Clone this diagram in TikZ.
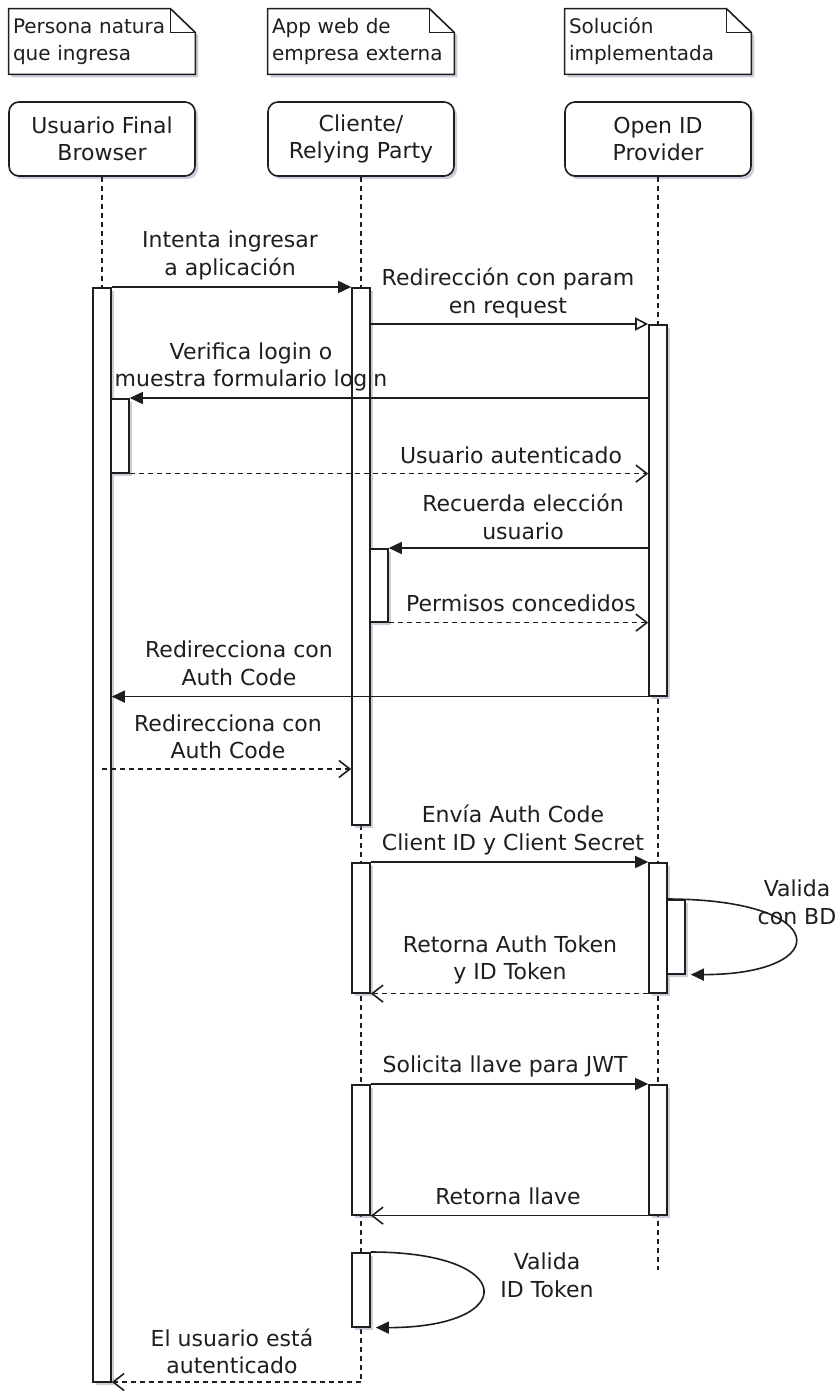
\documentclass[tikz,border=0pt]{standalone}
\usepackage{fontspec}
\setmainfont{DejaVu Sans}
\usetikzlibrary{arrows.meta,shadows,backgrounds}
\definecolor{Ink}{HTML}{1E1E1E}
\definecolor{Shade}{HTML}{8C92AC}

\begin{document}
\begin{tikzpicture}[x=.5pt,y=-.5pt,font=\fontsize{11}{13.75}\selectfont,
shade/.style={drop shadow={shadow xshift=1.5pt,shadow yshift=-1.5pt,opacity=.45,fill=Shade}},
actor/.style={draw=Ink,line width=.8pt,rounded corners=5pt,fill=white,text=Ink,align=center,minimum width=93pt,minimum height=37pt,shade},
memo/.style={text=Ink,align=left,text width=89pt,inner xsep=2pt,minimum height=32.5pt,font=\fontsize{10}{13.5}\selectfont},
bar/.style={draw=Ink,line width=.8pt,fill=white,minimum width=9pt,inner sep=0pt,anchor=north,shade},
life/.style={draw=Ink,line width=.6pt,dash pattern=on 2.5pt off 2pt},
msg/.style={draw=Ink,line width=.8pt,-{Triangle[length=6.5pt,width=6pt]}},
hollow/.style={draw=Ink,line width=.8pt,-{Triangle[open,length=6.5pt,width=6.5pt,fill=white]}},
reply/.style={draw=Ink,line width=.8pt,dash pattern=on 2.5pt off 2pt,-{Straight Barb[length=5.5pt,width=8.5pt]}},
back/.style={draw=Ink,line width=.8pt,-{Straight Barb[length=5.5pt,width=8.5pt]}},
lbl/.style={align=center,text=Ink}]
\useasboundingbox (0,0) rectangle (839,1391);
% notes
\node[memo](noteU) at (102,41.5){Persona natura\\que ingresa};
\node[memo](noteC) at (361,41.5){App web de\\empresa externa};
\node[memo](noteO) at (658,41.5){Solución\\implementada};
\begin{scope}[on background layer]
\foreach \n in {noteU,noteC,noteO}{
\draw[draw=Ink,line width=.8pt,fill=white,shade](\n.south west)--(\n.south east)--([yshift=-12pt]\n.north east)--([xshift=-12.5pt]\n.north east)--(\n.north west)--cycle;
\draw[draw=Ink,line width=.8pt]([xshift=-12.5pt]\n.north east)--([xshift=-12.5pt,yshift=-12pt]\n.north east)--([yshift=-12pt]\n.north east);}
\end{scope}
% participants
\node[actor](usr) at (102,139){Usuario Final\\Browser};
\node[actor](cli) at (361,139){Cliente/\\Relying Party};
\node[actor](idp) at (658,139){Open ID\\Provider};
\coordinate(cEnd) at (361,1382);
\coordinate(oEnd) at (658,1270);
\coordinate(acStart) at (102,769);
% lifelines
\draw[life](usr.south)--(102,287);
\draw[life](cli.south)--(cEnd);
\draw[life](idp.south)--(oEnd);
% activations
\node[bar,minimum height=547pt](uBar) at (102,287){};
\node[bar,minimum height=37pt](uSub) at (120,398){};
\node[bar,minimum height=268.5pt](cBar1) at (361,287){};
\node[bar,minimum height=36.5pt](cSub) at (379,548){};
\node[bar,minimum height=65pt](cBar2) at (361,862){};
\node[bar,minimum height=65pt](cBar3) at (361,1084){};
\node[bar,minimum height=37pt](cBar4) at (361,1252){};
\node[bar,minimum height=185.5pt](oBar1) at (658,324){};
\node[bar,minimum height=65pt](oBar2) at (658,862){};
\node[bar,minimum height=37pt](oSub) at (676,899){};
\node[bar,minimum height=65pt](oBar3) at (658,1084){};
% messages
\draw[msg](uBar.north east)--(cBar1.north west);
\node[lbl](intenta) at (230,255.5){Intenta ingresar\\a aplicación};
\draw[hollow](cBar1.east|-oBar1.north west)--(oBar1.north west);
\node[lbl](redir) at (508,293){Redirección con param\\en request};
\draw[msg](oBar1.west|-uSub.north east)--(uSub.north east);
\node[lbl](verifica) at (251,367){Verifica login o\\muestra formulario login};
\draw[reply](uSub.south east)--(oBar1.west|-uSub.south east);
\node[lbl](autent) at (511,455){Usuario autenticado};
\draw[msg](oBar1.west|-cSub.north east)--(cSub.north east);
\node[lbl](recuerda) at (523,517){Recuerda elección\\usuario};
\draw[reply](cSub.south east)--(oBar1.west|-cSub.south east);
\node[lbl](permisos) at (521,603){Permisos concedidos};
\draw[msg](oBar1.south west)--(uBar.east|-oBar1.south west);
\node[lbl](codeA) at (239,663.5){Redirecciona con\\Auth Code};
\draw[reply](acStart)--(cBar1.west|-acStart);
\node[lbl](codeB) at (228,737){Redirecciona con\\Auth Code};
\draw[msg](cBar2.north east)--(oBar2.north west);
\node[lbl](envia) at (513,830){Envía Auth Code\\Client ID y Client Secret};
\draw[msg](oSub.north west)..controls +(167,0) and +(143,0)..([xshift=2.5pt]oSub.south east);
\node[lbl](validaBD) at (797,902.5){Valida\\con BD};
\draw[reply](oBar2.south west)--(cBar2.south east);
\node[lbl](token) at (510,960){Retorna Auth Token\\y ID Token};
\draw[msg](cBar3.north east)--(oBar3.north west);
\node[lbl](solicita) at (505,1066){Solicita llave para JWT};
\draw[back](oBar3.south west)--(cBar3.south east);
\node[lbl](llave) at (508,1196){Retorna llave};
\draw[msg](cBar4.north east)..controls +(148,0) and +(143,0)..([xshift=2.5pt]cBar4.south east);
\node[lbl](validaID) at (547,1275.5){Valida\\ID Token};
\draw[reply](cEnd)--(uBar.east|-cEnd);
\node[lbl](listo) at (232,1351.5){El usuario está\\autenticado};
\end{tikzpicture}
\end{document}
